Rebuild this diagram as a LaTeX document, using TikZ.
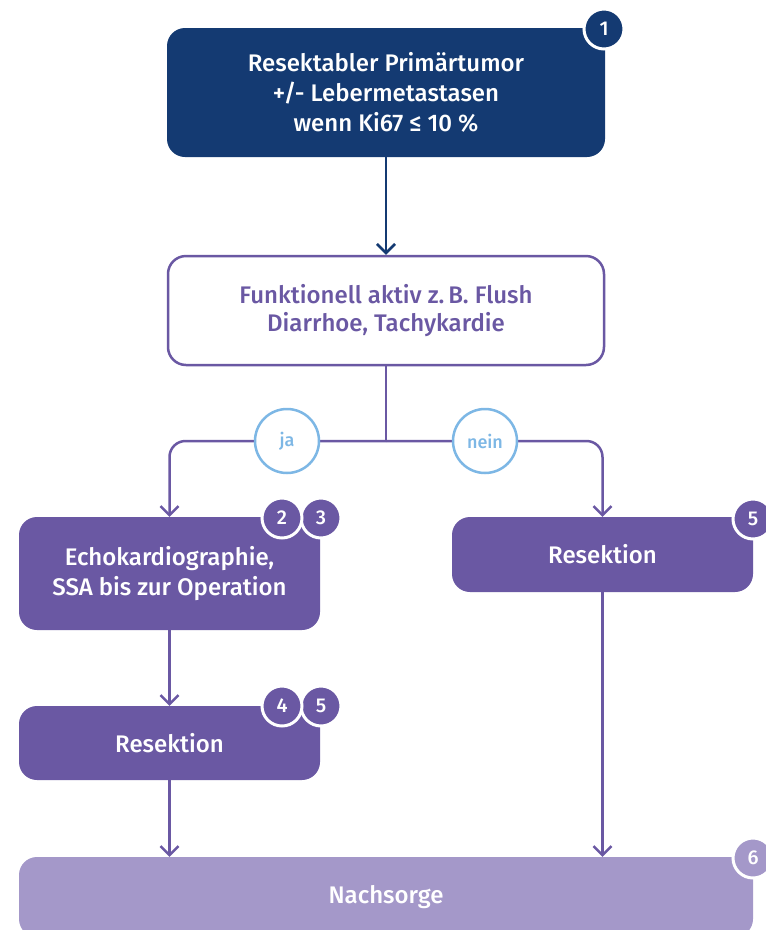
\documentclass[tikz,border=0pt]{standalone}
\usepackage{fontspec}
\setmainfont{Fira Sans}[BoldFont={Fira Sans Medium}]
\usetikzlibrary{arrows.meta}
\definecolor{navy}{HTML}{143A72}
\definecolor{violet}{HTML}{6A58A3}
\definecolor{lilac}{HTML}{A498C9}
\definecolor{sky}{HTML}{7DB7E5}
\tikzset{
  box/.style={rounded corners=18pt, inner sep=0pt, align=center, font=\fontsize{24}{30}\selectfont\bfseries},
  navybox/.style={box, fill=navy, text=white},
  outlinebox/.style={box, draw=violet, line width=2.5pt, fill=white, text=violet, font=\fontsize{24}{28}\selectfont\bfseries},
  violetbox/.style={box, fill=violet, text=white},
  lilacbox/.style={box, fill=lilac, text=white},
  badge/.style={circle, minimum size=40pt, inner sep=0pt, draw=white, line width=3pt, text=white, font=\fontsize{20}{20}\selectfont\bfseries},
  choice/.style={circle, minimum size=64pt, inner sep=0pt, draw=sky, line width=2.5pt, fill=white, text=sky, font=\fontsize{18}{18}\selectfont\bfseries},
  link/.style={line width=2.5pt, -{Straight Barb[length=9pt, width=18pt, line width=2.5pt]}},
}
\begin{document}
\begin{tikzpicture}[x=1pt, y=-1pt]
\useasboundingbox (0,0) rectangle (766,930);
\begin{scope}
\clip (0,0) rectangle (766,930);
% boxes
\node[navybox, minimum width=438pt, minimum height=129pt] (start) at (386,92.5)
  {Resektabler Primärtumor\\+/- Lebermetastasen\\wenn Ki67 ≤ 10 \%};
\node[outlinebox, minimum width=436pt, minimum height=109pt] (func) at (386,310.5)
  {Funktionell aktiv z.\,B. Flush\\Diarrhoe, Tachykardie};
\node[violetbox, minimum width=301pt, minimum height=113pt] (echo) at (169.5,573.5)
  {Echokardiographie,\\SSA bis zur Operation};
\node[violetbox, minimum width=301pt, minimum height=75pt] (resR) at (602.5,554.5) {Resektion};
\node[violetbox, minimum width=301pt, minimum height=74pt] (resL) at (169.5,743) {Resektion};
\node[lilacbox, minimum width=734pt, minimum height=80pt] (care) at (386,897) {Nachsorge};
% connectors
\coordinate (split) at (386,441);
\draw[link, draw=navy] (start.south) -- (func.north);
\draw[line width=2.5pt, violet] (func.south) -- (split);
\draw[link, violet, rounded corners=16pt] (split) -| (echo.north);
\draw[link, violet, rounded corners=16pt] (split) -| (resR.north);
\draw[link, violet] (echo.south) -- (resL.north);
\draw[link, violet] (resL.south) -- (resL.south |- care.north);
\draw[link, violet] (resR.south) -- (resR.south |- care.north);
% decision labels
\node[choice] (yes) at (287,441) {ja};
\node[choice] (no) at (485,441) {nein};
% reference badges
\node[badge, fill=navy] (b1) at (604,29) {1};
\node[badge, fill=violet] (b3) at (321,518) {3};
\node[badge, fill=violet] (b2) at (282,518) {2};
\node[badge, fill=violet] (b5a) at (753,519) {5};
\node[badge, fill=violet] (b5b) at (321,706) {5};
\node[badge, fill=violet] (b4) at (282,706) {4};
\node[badge, fill=lilac] (b6) at (753,858) {6};
\end{scope}
\end{tikzpicture}
\end{document}
